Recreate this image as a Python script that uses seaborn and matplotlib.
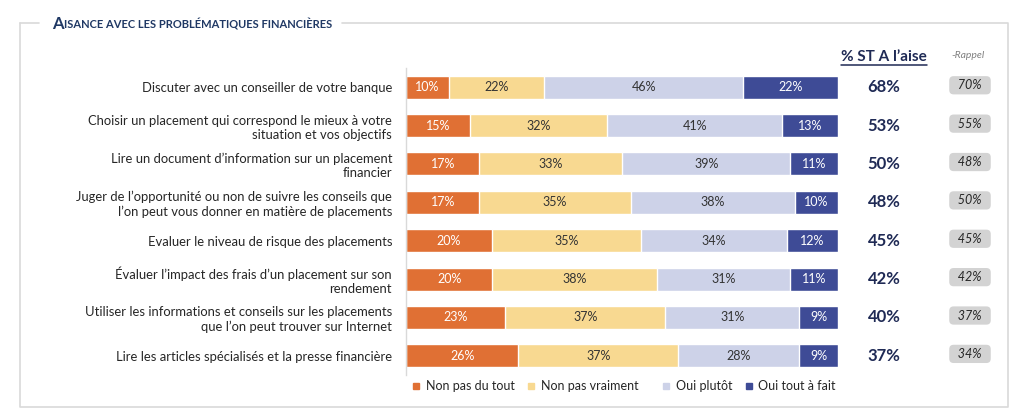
import matplotlib
matplotlib.use("Agg")
import matplotlib.pyplot as plt
import seaborn as sns
import numpy as np
from matplotlib.lines import Line2D

# ---------------- data ----------------
categories = [
    "Discuter avec un conseiller de votre banque",
    "Choisir un placement qui correspond le mieux à votre\nsituation et vos objectifs",
    "Lire un document d’information sur un placement\nfinancier",
    "Juger de l’opportunité ou non de suivre les conseils que\nl’on peut vous donner en matière de placements",
    "Evaluer le niveau de risque des placements",
    "Évaluer l’impact des frais d’un placement sur son\nrendement",
    "Utiliser les informations et conseils sur les placements\nque l’on peut trouver sur Internet",
    "Lire les articles spécialisés et la presse financière",
]
series_names = ["Non pas du tout", "Non pas vraiment", "Oui plutôt", "Oui tout à fait"]
non_pas_du_tout = [10, 15, 17, 17, 20, 20, 23, 26]
non_pas_vraiment = [22, 32, 33, 35, 35, 38, 37, 37]
oui_plutot = [46, 41, 39, 38, 34, 31, 31, 28]
oui_tout_a_fait = [22, 13, 11, 10, 12, 11, 9, 9]
st_a_laise = [68, 53, 50, 48, 45, 42, 40, 37]
rappel = [70, 55, 48, 50, 45, 42, 37, 34]

colors = ["#E07034", "#F8D991", "#CDD2E8", "#3E4B96"]
label_colors = ["white", "#333333", "#333333", "white"]
navy_text = "#1F2A55"
frame_col = "#D9D9D9"

sns.set_theme(style="white")
plt.rcParams["font.family"] = ["Lato", "DejaVu Sans"]

W, H = 1024, 418
fig = plt.figure(figsize=(W / 100, H / 100), dpi=100)
ax = fig.add_axes([406 / W, 1 - 375 / H, 432 / W, (375 - 68) / H])

series = [non_pas_du_tout, non_pas_vraiment, oui_plutot, oui_tout_a_fait]
totals = np.sum(series, axis=0)
shares = [np.array(s) / totals * 100 for s in series]
cum = np.cumsum(shares, axis=0)

for i in reversed(range(4)):
    sns.barplot(x=cum[i], y=categories, order=categories, color=colors[i],
                orient="h", width=0.6, errorbar=None, edgecolor="white",
                linewidth=1, saturation=1, ax=ax)

for i in range(4):
    for j in range(len(categories)):
        ax.text(cum[i][j] - shares[i][j] / 2, j, f"{series[i][j]}%",
                ha="center", va="center", fontsize=9, color=label_colors[i])

ax.set_xlim(0, 100)
ax.set_ylim(7.5, -0.5)
ax.set_xticks([])
ax.set_xlabel("")
ax.set_ylabel("")
for s in ["top", "right", "bottom"]:
    ax.spines[s].set_visible(False)
ax.spines["left"].set_color(frame_col)
ax.spines["left"].set_linewidth(1)
ax.tick_params(axis="y", length=0, pad=10, labelsize=9.4, labelcolor="#262626")

# right columns
yt = ax.get_yaxis_transform()
x_st = (884 - 406) / 432
x_rp = (970 - 406) / 432
for j in range(len(categories)):
    ax.text(x_st, j, f"{st_a_laise[j]}%", transform=yt, ha="center", va="center",
            fontsize=12, fontweight="bold", color=navy_text, clip_on=False)
    ax.text(x_rp, j - 0.05, f"  {rappel[j]}%  ", transform=yt, ha="center", va="center",
            fontsize=9, fontstyle="italic", color="#262626", clip_on=False,
            bbox=dict(boxstyle="round,pad=0.25,rounding_size=0.35",
                      facecolor="#D3D3D3", edgecolor="none"))

hdr = fig.text(884 / W, 1 - 57 / H, "% ST A l’aise", ha="center", va="center",
               fontsize=11, fontweight="bold", color=navy_text)
fig.text(968 / W, 1 - 55 / H, "-Rappel", ha="center", va="center",
         fontsize=7.5, fontstyle="italic", color="#808080")

# title (small caps)
t1 = fig.text(52 / W, 1 - 24 / H, "A", ha="left", va="center", fontsize=12,
              fontweight="bold", color="#1F3864")
fig.canvas.draw()
bb = t1.get_window_extent()
fig.text(bb.x1 / W, 1 - 24.5 / H, "ISANCE AVEC LES PROBLÉMATIQUES FINANCIÈRES",
         ha="left", va="center", fontsize=8, fontweight="bold", color="#1F3864")

# underline of header
fig.canvas.draw()
hb = hdr.get_window_extent()
fig.add_artist(Line2D([hb.x0 / W, hb.x1 / W], [1 - 65 / H, 1 - 65 / H],
                      color=navy_text, lw=1.1, transform=fig.transFigure))

# frame
def fl(xs, ys):
    fig.add_artist(Line2D([x / W for x in xs], [1 - y / H for y in ys],
                          color=frame_col, lw=1.2, transform=fig.transFigure))

fl([20, 20, 1008, 1008, 342], [23, 407, 407, 23, 23])
fl([20, 39], [23, 23])

# legend in two groups (uneven spacing like reference)
handles = [Line2D([], [], marker="s", linestyle="none", markersize=4.8,
                  markerfacecolor=c, markeredgecolor=c) for c in colors]
kw = dict(loc="center left", ncol=2, frameon=False, fontsize=9,
          handlelength=0.6, handletextpad=0.5, columnspacing=1.0,
          borderpad=0, borderaxespad=0, labelcolor="#262626")
fig.legend(handles[:2], series_names[:2], bbox_to_anchor=(412 / W, 1 - 386 / H), **kw)
fig.legend(handles[2:], series_names[2:], bbox_to_anchor=(662 / W, 1 - 386 / H), **kw)

fig.savefig("out.png", dpi=100)
